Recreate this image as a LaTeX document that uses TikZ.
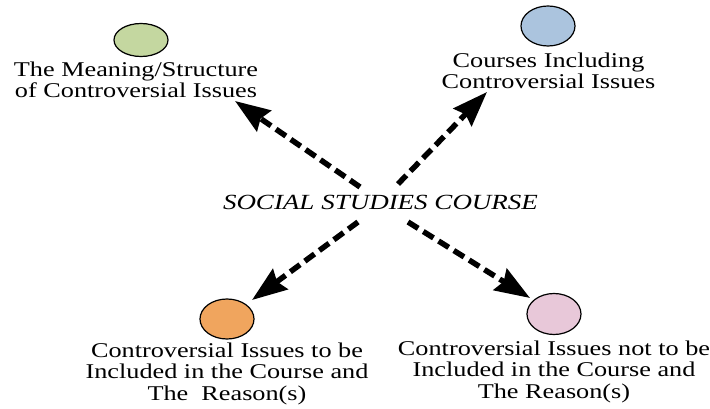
\documentclass[tikz,border=0pt]{standalone}
\usepackage{fontspec}
\setmainfont{Liberation Serif}[FakeStretch=1.25]
\usetikzlibrary{shapes,arrows.meta}
\definecolor{greenfill}{RGB}{196,215,160}
\definecolor{bluefill}{RGB}{171,196,222}
\definecolor{orangefill}{RGB}{240,165,94}
\definecolor{pinkfill}{RGB}{232,200,217}
\begin{document}
\begin{tikzpicture}[x=1pt,y=1pt,
                    every path/.style={>={Stealth[length=35pt,width=25pt,inset=4pt]}},
                    issue/.style={draw,ellipse,line width=1.2pt,inner sep=0pt,minimum width=54pt,minimum height=40pt},
                    txt/.style={align=center,inner sep=0pt,anchor=north,font=\fontsize{21}{21.5}\selectfont},
                    flow/.style={->,line width=5.5pt,dash pattern=on 12pt off 6pt}]
  \useasboundingbox (0,0) rectangle (710,-409);
  % circles
  \node[issue,fill=greenfill,minimum height=33pt] (g) at (141,-40)  {};
  \node[issue,fill=bluefill]                      (b) at (548,-26)  {};
  \node[issue,fill=orangefill]                    (o) at (227,-319) {};
  \node[issue,fill=pinkfill,minimum height=41pt]  (p) at (554,-314) {};
  % texts
  \node[txt] (gt) at (136,-61.5)  {The Meaning/Structure\\of Controversial Issues};
  \node[txt] (bt) at (548.5,-52.5) {Courses Including\\Controversial Issues};
  \node[txt] (ot) at (227,-342.5) {Controversial Issues to be\\Included in the Course and\\The\ \ Reason(s)};
  \node[txt] (pt) at (554,-340.5) {Controversial Issues not to be\\Included in the Course and\\The Reason(s)};
  \node[anchor=base,inner sep=0pt,font=\fontsize{21.6}{22}\selectfont\itshape] (c) at (380.5,-209) {SOCIAL STUDIES COURSE};
  % arrow ends
  \coordinate (c1) at (360,-187);
  \coordinate (c2) at (398,-184);
  \coordinate (c3) at (358,-222);
  \coordinate (c4) at (408,-222);
  \coordinate (gtip) at (235,-101);
  \coordinate (btip) at (487,-92);
  \coordinate (otip) at (252,-300);
  \coordinate (ptip) at (530,-298);
  \draw[flow] (c1) -- (gtip);
  \draw[flow] (c2) -- (btip);
  \draw[flow] (c3) -- (otip);
  \draw[flow] (c4) -- (ptip);
\end{tikzpicture}
\end{document}
